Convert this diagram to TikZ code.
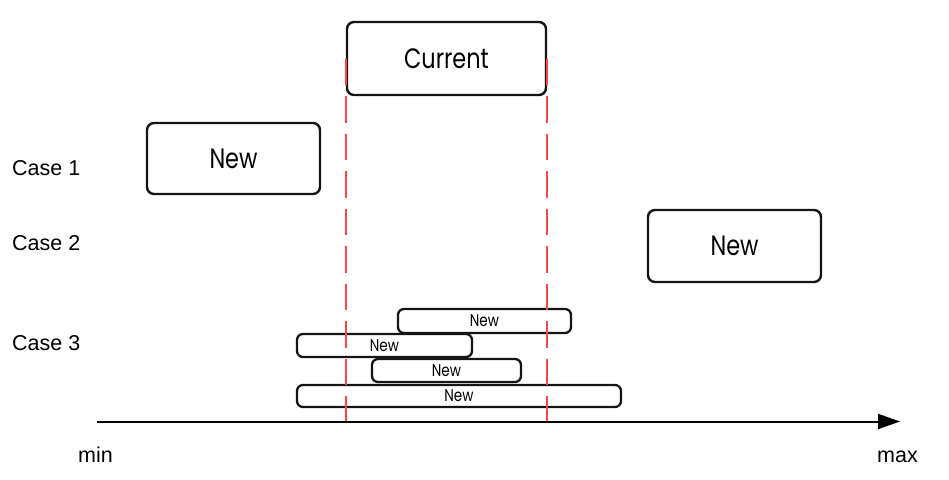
\documentclass[tikz,border=0pt]{standalone}
\usepackage{fontspec}
\setmainfont{Liberation Sans}
\newfontfamily\boxfont{Poppins}
\usetikzlibrary{arrows.meta}
\definecolor{dashred}{HTML}{FF4545}
\definecolor{edgeblack}{HTML}{151515}
\newcommand\narrowtext[1]{\scalebox{0.8}[1]{#1}}
\begin{document}
\begin{tikzpicture}[x=1pt,y=-1pt,
  bigbox/.style={draw=edgeblack,line width=2.4pt,rounded corners=7pt,inner sep=0pt,
    font=\boxfont\fontsize{28}{30}\selectfont},
  smallbox/.style={draw=edgeblack,line width=2.3pt,rounded corners=6pt,inner sep=0pt,
    font=\boxfont\fontsize{17}{18}\selectfont},
  redline/.style={draw=dashred,line width=2.3pt,dash pattern=on 26.5pt off 11pt},
  lbl/.style={anchor=base west,font=\fontsize{21.5}{24}\selectfont,text=black,inner sep=0pt}]
\useasboundingbox (0,0) rectangle (949,479);
\fill[white] (0,0) rectangle (949,479);

\coordinate (amin) at (97,421.5);
\coordinate (amax) at (900,421.5);

\node[bigbox,minimum width=199pt,minimum height=73pt] (cur) at (446.5,58.5) {\narrowtext{Current}};
\node[bigbox,minimum width=173pt,minimum height=71pt] (n1) at (233.5,158.5) {\narrowtext{New}};
\node[bigbox,minimum width=173pt,minimum height=72pt] (n2) at (734.5,246) {\narrowtext{New}};

\node[smallbox,minimum width=173pt,minimum height=24pt] (n3a) at (484.5,321) {\narrowtext{New}};
\node[smallbox,minimum width=175pt,minimum height=23pt] (n3b) at (384.5,345.5) {\narrowtext{New}};
\node[smallbox,minimum width=149pt,minimum height=23pt] (n3c) at (446.5,370.5) {\narrowtext{New}};
\node[smallbox,minimum width=324pt,minimum height=22pt] (n3d) at (459,396) {\narrowtext{New}};

\draw[redline] (cur.west) -- (cur.west |- amin);
\draw[redline] (cur.east) -- (cur.east |- amin);

\draw[line width=2pt,-{Triangle[length=22pt,width=15pt]}] (amin) -- (amax);

\node[lbl] (c1) at (12,175) {Case 1};
\node[lbl] (c2) at (12,250) {Case 2};
\node[lbl] (c3) at (12,350) {Case 3};
\node[lbl] (mn) at (78,462.5) {min};
\node[lbl] (mx) at (877,462.5) {max};
\end{tikzpicture}
\end{document}
